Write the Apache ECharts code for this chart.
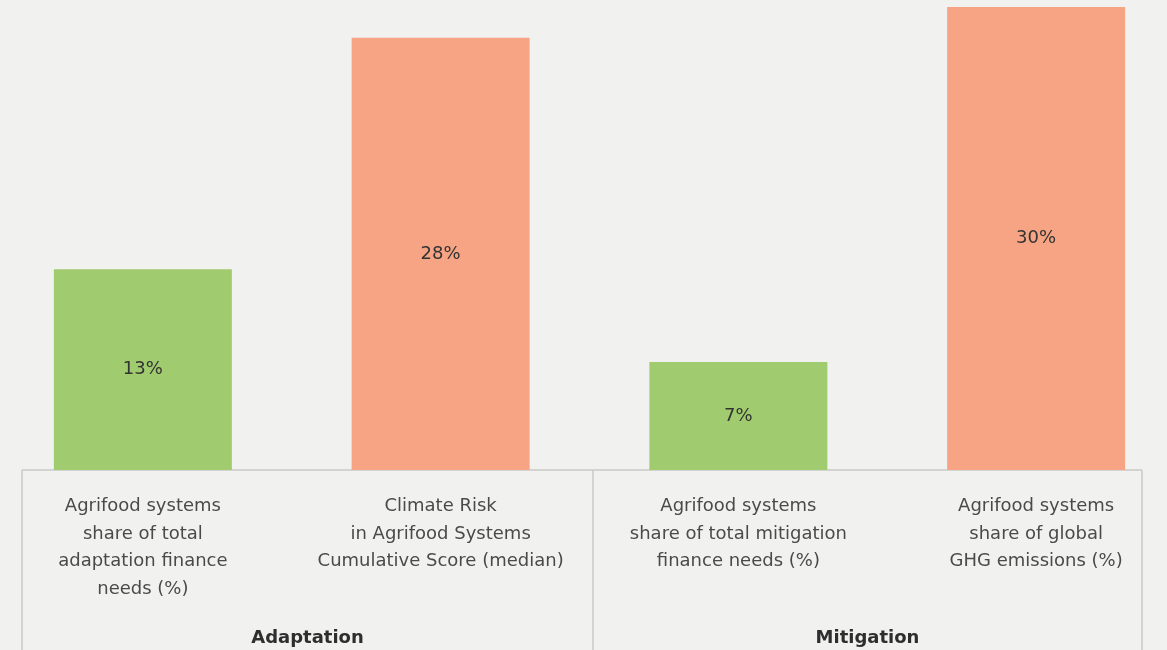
<!DOCTYPE html>
<html>
<head>
<meta charset="utf-8">
<script src="https://cdn.jsdelivr.net/npm/echarts@6/dist/echarts.min.js"></script>
<style>
html,body{margin:0;padding:0;background:#f1f2f0;overflow:hidden;width:1167px;height:650px;}
#c{width:1191px;height:650px;margin-left:-6px;}
</style>
</head>
<body>
<div id="c"></div>
<script>
var categories = [
  'Agrifood systems\nshare of total\nadaptation finance\nneeds (%)',
  'Climate Risk\nin Agrifood Systems\nCumulative Score (median)',
  'Agrifood systems\nshare of total mitigation\nfinance needs (%)',
  'Agrifood systems\nshare of global\nGHG emissions (%)'
];
var values = [13, 28, 7, 30];
var barColors = ['#a0cb6e', '#f7a485', '#a0cb6e', '#f7a485'];
var groups = ['Adaptation', 'Mitigation'];

var FONT = 'DejaVu Sans';
var chart = echarts.init(document.getElementById('c'));
var off = 6; // container shifted left by 6px
var axisY = 470, boxL = 22 + off, boxM = 593 + off, boxR = 1142 + off;
var lineStyle = {stroke: '#c9cac8', lineWidth: 1.5};
chart.setOption({
  backgroundColor: '#f1f2f0',
  animation: false,
  grid: {left: 0, right: 0, top: 7, bottom: 180, containLabel: false},
  xAxis: {
    type: 'category',
    data: categories,
    axisLine: {show: false},
    axisTick: {show: false},
    axisLabel: {
      interval: 0, margin: 23, fontFamily: FONT, fontSize: 18,
      lineHeight: 27.5, color: '#4a4a4a', align: 'center'
    }
  },
  yAxis: {type: 'value', min: 0, max: 30, show: false, splitLine: {show: false}},
  series: [{
    type: 'bar',
    barWidth: 178,
    data: values.map(function (v, i) {
      return {value: v, itemStyle: {color: barColors[i]}};
    }),
    label: {
      show: true, position: 'inside', fontFamily: FONT, fontSize: 18,
      color: '#333333', formatter: '{c}%'
    }
  }],
  graphic: [
    {type: 'line', shape: {x1: boxL, y1: axisY, x2: boxR, y2: axisY}, style: lineStyle, silent: true},
    {type: 'line', shape: {x1: boxL, y1: axisY, x2: boxL, y2: 650}, style: lineStyle, silent: true},
    {type: 'line', shape: {x1: boxM, y1: axisY, x2: boxM, y2: 650}, style: lineStyle, silent: true},
    {type: 'line', shape: {x1: boxR, y1: axisY, x2: boxR, y2: 650}, style: lineStyle, silent: true},
    {type: 'text', x: (boxL + boxM) / 2, y: 638, style: {text: groups[0], fontFamily: FONT, fontSize: 18, fontWeight: 'bold', fill: '#2e2e2e', textAlign: 'center', textVerticalAlign: 'middle'}},
    {type: 'text', x: (boxM + boxR) / 2, y: 638, style: {text: groups[1], fontFamily: FONT, fontSize: 18, fontWeight: 'bold', fill: '#2e2e2e', textAlign: 'center', textVerticalAlign: 'middle'}}
  ]
});
</script>
</body>
</html>
